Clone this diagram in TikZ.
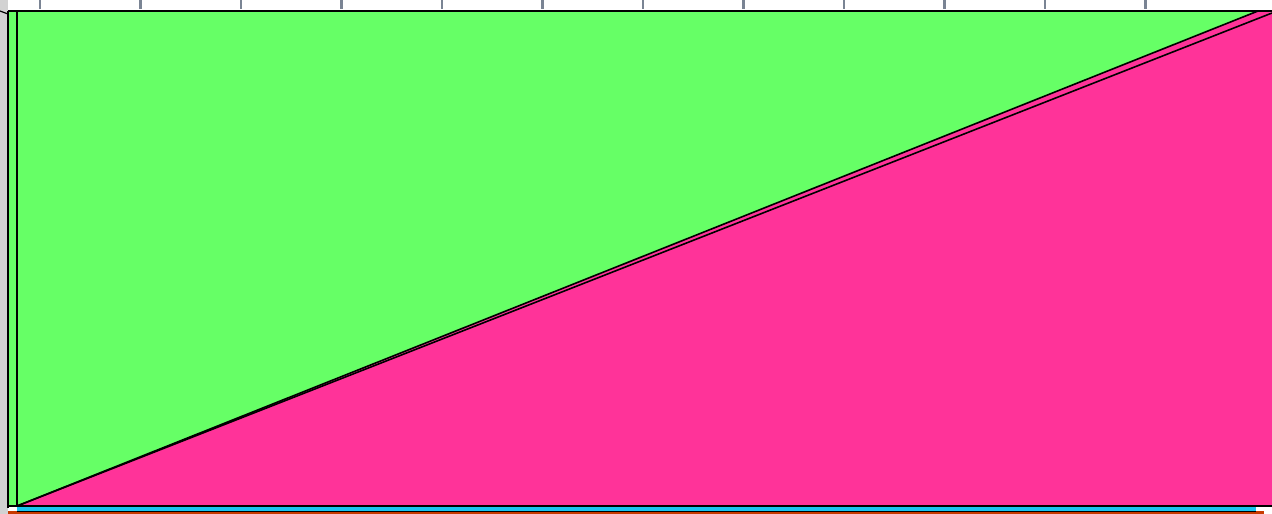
\documentclass[tikz,border=0pt]{standalone}
\begin{document}
\begin{tikzpicture}[x=1pt,y=-1pt,
  edge/.style={draw=black,line width=1.6pt},
  tick/.style={draw=tickc,line width=2.5pt}]
\useasboundingbox (0,0) rectangle (1272,514);
\definecolor{grn}{HTML}{66FF66}
\definecolor{pnk}{HTML}{FF3399}
\definecolor{cyn}{HTML}{18C4F0}
\definecolor{org}{HTML}{C83A00}
\definecolor{tickc}{HTML}{7A8494}
\fill[white] (0,0) rectangle (1272,514);
\fill[gray!35] (0,0) rectangle (8,514);
\foreach \i in {0,...,11} \draw[tick] (40+100.5*\i,0) -- (40+100.5*\i,9);
% bottom strips
\fill[org] (8,511) rectangle (1264,514);
\fill[cyn] (17,506) rectangle (1256,511.5);
\draw[black,line width=0.7pt] (17,511.5) -- (1256,511.5);
% green panel
\fill[grn] (8,11) rectangle (1258,506);
% pink sliver and triangle
\fill[pnk] (17,506) -- (1258,11) -- (1272,12.5) -- (1272,506) -- cycle;
\draw[edge] (17,506) -- (1258,11);
\draw[edge] (17,506) -- (1272,13);
\draw[edge] (8,11) -- (1258,11) -- (1272,11);
\draw[edge] (8,11) -- (8,508);
\draw[edge] (17,11) -- (17,506);
\draw[edge] (8,506) -- (1272,506);
\draw[black,line width=1.2pt] (0,11) -- (8,14);
\end{tikzpicture}
\end{document}
